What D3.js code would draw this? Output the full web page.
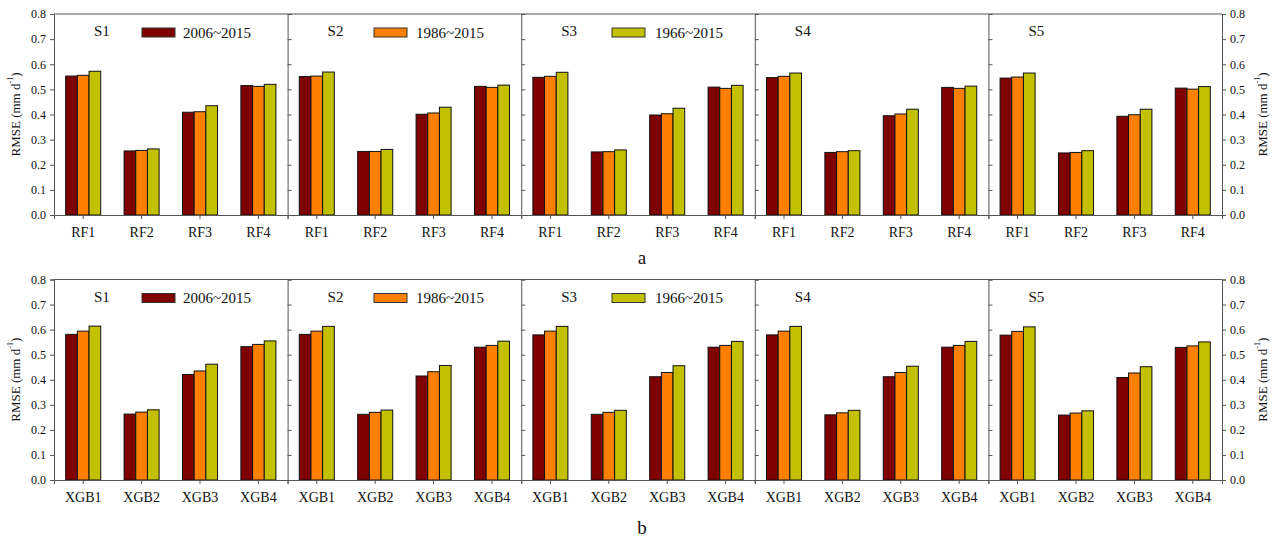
<!DOCTYPE html>
<html>
<head>
<meta charset="utf-8">
<script src="https://cdn.jsdelivr.net/npm/d3@7"></script>
<style>
  html, body { margin: 0; padding: 0; background: #fff; }
  svg { display: block; font-family: "Liberation Serif", "Times New Roman", serif; }
  svg text { font-family: "Liberation Serif", "Times New Roman", serif; }
</style>
</head>
<body>
<svg id="chart" width="1275" height="540"></svg>
<script>
// Panels (stations) and training periods
const stations = ["S1", "S2", "S3", "S4", "S5"];
const periods = ["2006~2015", "1986~2015", "1966~2015"];
const periodColors = ["#7f0000", "#ff8000", "#c2c000"];
const rfModels = ["RF1", "RF2", "RF3", "RF4"];
const xgbModels = ["XGB1", "XGB2", "XGB3", "XGB4"];
const yTicks = [0.0, 0.1, 0.2, 0.3, 0.4, 0.5, 0.6, 0.7, 0.8];

// RMSE (mm d-1) for the RF models; one row per station, one value per model
const rf_2006_2015 = [
  [0.553, 0.255, 0.409, 0.515],
  [0.551, 0.253, 0.401, 0.512],
  [0.548, 0.251, 0.398, 0.509],
  [0.547, 0.249, 0.395, 0.508],
  [0.545, 0.247, 0.393, 0.505]
];
const rf_1986_2015 = [
  [0.556, 0.257, 0.411, 0.512],
  [0.553, 0.253, 0.406, 0.508],
  [0.552, 0.252, 0.403, 0.504],
  [0.552, 0.252, 0.402, 0.504],
  [0.549, 0.249, 0.399, 0.501]
];
const rf_1966_2015 = [
  [0.572, 0.263, 0.435, 0.520],
  [0.569, 0.261, 0.429, 0.517],
  [0.568, 0.259, 0.425, 0.516],
  [0.565, 0.256, 0.421, 0.513],
  [0.565, 0.256, 0.421, 0.511]
];

// RMSE (mm d-1) for the XGB models
const xgb_2006_2015 = [
  [0.581, 0.263, 0.421, 0.532],
  [0.581, 0.262, 0.415, 0.530],
  [0.579, 0.262, 0.412, 0.530],
  [0.579, 0.260, 0.412, 0.530],
  [0.578, 0.259, 0.409, 0.529]
];
const xgb_1986_2015 = [
  [0.594, 0.271, 0.435, 0.541],
  [0.594, 0.270, 0.432, 0.537],
  [0.594, 0.270, 0.429, 0.537],
  [0.594, 0.268, 0.429, 0.537],
  [0.593, 0.267, 0.427, 0.535]
];
const xgb_1966_2015 = [
  [0.614, 0.280, 0.462, 0.555],
  [0.613, 0.279, 0.457, 0.554],
  [0.613, 0.278, 0.456, 0.553],
  [0.613, 0.278, 0.454, 0.553],
  [0.611, 0.276, 0.452, 0.551]
];

const svg = d3.select("#chart");
const axisColor = "#555";
const serif = "Liberation Serif";

const left = 54, right = 1222;
const xPanel = d3.scaleBand().domain(stations).range([left, right]).padding(0);

const rows = [
  { models: rfModels, series: [rf_2006_2015, rf_1986_2015, rf_1966_2015], top: 14, bottom: 215, tag: "a", tagY: 264 },
  { models: xgbModels, series: [xgb_2006_2015, xgb_1986_2015, xgb_1966_2015], top: 279.5, bottom: 480, tag: "b", tagY: 534 }
];

rows.forEach(row => {
  const g = svg.append("g");
  const y = d3.scaleLinear().domain([0, 0.8]).range([row.bottom, row.top]);

  stations.forEach((st, si) => {
    const x0 = xPanel(st);
    const xGroup = d3.scaleBand().domain(row.models)
      .range([x0, x0 + xPanel.bandwidth()])
      .paddingInner(0.4).paddingOuter(0.2);
    const xBar = d3.scaleBand().domain(periods).range([0, xGroup.bandwidth()]).padding(0);

    const pg = g.append("g");

    // bars
    row.models.forEach((m, mi) => {
      periods.forEach((p, pi) => {
        const v = row.series[pi][si][mi];
        pg.append("rect")
          .attr("x", xGroup(m) + xBar(p))
          .attr("y", y(v))
          .attr("width", xBar.bandwidth())
          .attr("height", y(0) - y(v))
          .attr("fill", periodColors[pi])
          .attr("stroke", "#111")
          .attr("stroke-width", 1);
      });
    });

    // bottom axis with category labels
    const xAxis = d3.axisBottom(xGroup).tickSize(4).tickPadding(8);
    const ax = pg.append("g").attr("transform", `translate(0,${row.bottom})`).call(xAxis);
    ax.attr("font-family", serif);
    ax.select(".domain").attr("stroke", axisColor);
    ax.selectAll(".tick line").attr("stroke", axisColor);
    ax.selectAll(".tick text")
      .attr("font-size", 14)
      .attr("font-family", serif)
      .attr("fill", "#111");

    // divider between panels, ticks pointing into the panel on its right
    if (si > 0) {
      const div = d3.axisRight(y).tickValues(yTicks).tickSize(4).tickFormat("");
      const dv = pg.append("g").attr("transform", `translate(${x0},0)`).call(div);
      dv.select(".domain").attr("stroke", axisColor);
      dv.selectAll(".tick line").attr("stroke", axisColor);
    }

    // station label
    pg.append("text")
      .attr("x", x0 + 40)
      .attr("y", row.top + 22)
      .attr("font-size", 15)
      .attr("font-family", serif)
      .attr("fill", "#111")
      .text(st);
  });

  // top frame line
  g.append("line")
    .attr("x1", left).attr("x2", right)
    .attr("y1", row.top).attr("y2", row.top)
    .attr("stroke", axisColor);

  // outer y axes
  const fmt = d3.format(".1f");
  const yl = g.append("g").attr("transform", `translate(${left},0)`)
    .call(d3.axisLeft(y).tickValues(yTicks).tickFormat(fmt).tickSize(4).tickPadding(4));
  const yr = g.append("g").attr("transform", `translate(${right},0)`)
    .call(d3.axisRight(y).tickValues(yTicks).tickFormat(fmt).tickSize(4).tickPadding(4));
  [yl, yr].forEach(a => {
    a.attr("font-family", serif);
    a.select(".domain").attr("stroke", axisColor);
    a.selectAll(".tick line").attr("stroke", axisColor);
    a.selectAll(".tick text").attr("font-size", 12).attr("font-family", serif).attr("fill", "#111");
  });

  // axis titles
  const midY = (row.top + row.bottom) / 2;
  [15, 1262].forEach(tx => {
    const t = g.append("text")
      .attr("transform", `translate(${tx},${midY}) rotate(-90)`)
      .attr("text-anchor", "middle")
      .attr("dominant-baseline", "central")
      .attr("font-size", 13)
      .attr("font-family", serif)
      .attr("fill", "#111");
    t.append("tspan").text("RMSE (mm d");
    t.append("tspan").attr("baseline-shift", "super").attr("font-size", 8).text("-1");
    t.append("tspan").text(")");
  });

  // legend: one entry in each of the first three panels
  const legendX = [142, 374, 612];
  const legendText = [183, 416, 655];
  periods.forEach((p, pi) => {
    g.append("rect")
      .attr("x", legendX[pi])
      .attr("y", row.top + 14)
      .attr("width", 33)
      .attr("height", 9)
      .attr("fill", periodColors[pi])
      .attr("stroke", "#333");
    g.append("text")
      .attr("x", legendText[pi])
      .attr("y", row.top + 23.5)
      .attr("font-size", 15)
      .attr("font-family", serif)
      .attr("fill", "#111")
      .text(p);
  });

  // row tag
  g.append("text")
    .attr("x", 642)
    .attr("y", row.tagY)
    .attr("text-anchor", "middle")
    .attr("font-size", 19)
    .attr("font-family", serif)
    .attr("fill", "#111")
    .text(row.tag);
});
</script>
</body>
</html>
